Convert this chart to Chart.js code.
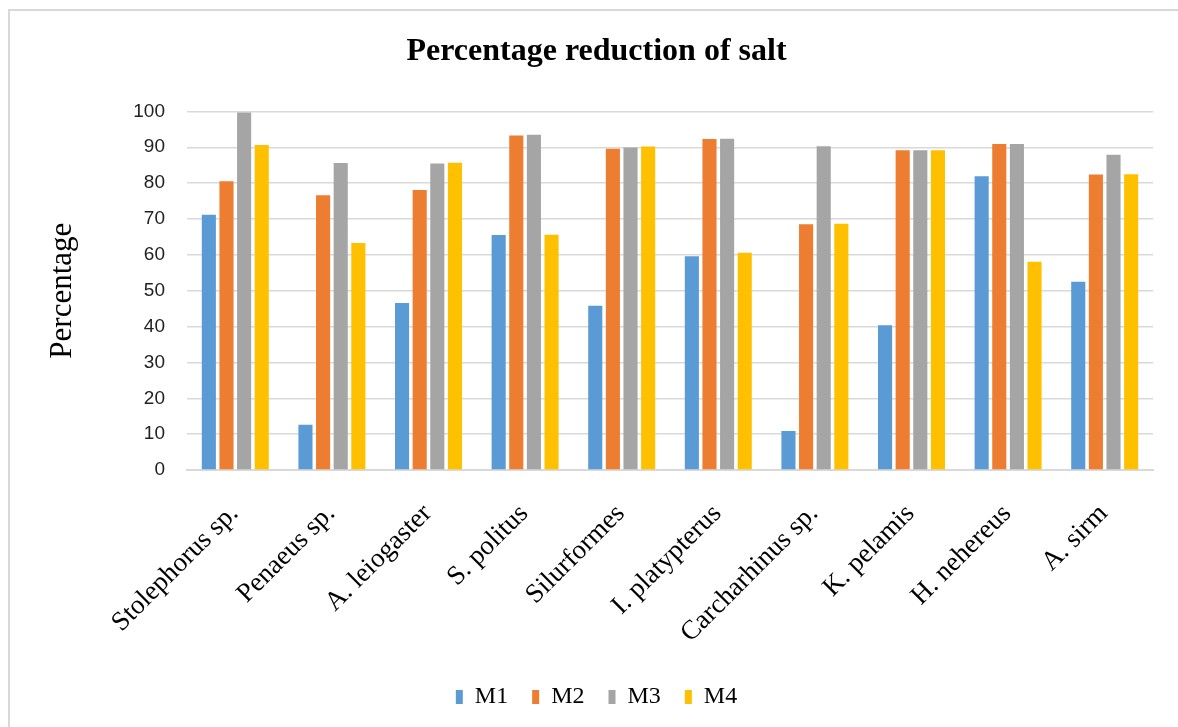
<!DOCTYPE html>
<html>
<head>
<meta charset="utf-8">
<script src="https://cdn.jsdelivr.net/npm/chart.js@4.4.0/dist/chart.umd.min.js"></script>
<style>
  html, body { margin: 0; padding: 0; background: #fff; overflow: hidden; }
  #frame { position: absolute; left: 8px; top: 9px; width: 1200px; height: 760px; border: 2px solid #d9d9d9; box-sizing: border-box; }
  #wrap { position: absolute; left: 0; top: 0; width: 1178px; height: 727px; }
</style>
</head>
<body>
<div id="frame"></div>
<div id="wrap"><canvas id="c" width="1178" height="727"></canvas></div>
<script>
const categories = ["Stolephorus sp.", "Penaeus sp.", "A. leiogaster", "S. politus", "Silurformes", "I. platypterus", "Carcharhinus sp.", "K. pelamis", "H. nehereus", "A. sirm"];
const m1 = [71.2, 12.6, 46.6, 65.5, 45.8, 59.6, 10.9, 40.4, 81.9, 52.5];
const m2 = [80.5, 76.6, 78.1, 93.3, 89.6, 92.3, 68.5, 89.2, 90.9, 82.4];
const m3 = [99.7, 85.6, 85.5, 93.5, 89.9, 92.4, 90.3, 89.2, 90.9, 87.9];
const m4 = [90.6, 63.3, 85.7, 65.6, 90.2, 60.6, 68.7, 89.2, 58.1, 82.5];
const seriesNames = ["M1", "M2", "M3", "M4"];
const colors = ["#5b9bd5", "#ed7d31", "#a5a5a5", "#ffc000"];
const yTicks = [0, 10, 20, 30, 40, 50, 60, 70, 80, 90, 100];

const serif = "'Liberation Serif', 'Times New Roman', serif";
const sans = "'Liberation Sans', Arial, sans-serif";

const data = {
  labels: categories,
  datasets: [m1, m2, m3, m4].map((v, i) => ({
    label: seriesNames[i],
    data: v,
    backgroundColor: colors[i],
    borderWidth: 0,
    categoryPercentage: 0.73,
    barPercentage: 0.8
  }))
};

new Chart(document.getElementById('c'), {
  type: 'bar',
  data: data,
  options: {
    responsive: false,
    animation: false,
    devicePixelRatio: 1,
    layout: { padding: { left: 40, right: 25, top: 20, bottom: 8 } },
    plugins: {
      title: {
        display: true,
        text: "Percentage reduction of salt",
        font: { family: serif, size: 32, weight: 'bold' },
        color: '#000',
        padding: { top: 13, bottom: 40 }
      },
      legend: {
        position: 'bottom',
        labels: {
          font: { family: serif, size: 24 },
          color: '#000',
          boxWidth: 7,
          boxHeight: 14,
          padding: 24
        }
      },
      tooltip: { enabled: false }
    },
    scales: {
      x: {
        grid: { display: false, drawTicks: false },
        border: { color: '#d9d9d9', width: 2 },
        ticks: {
          font: { family: serif, size: 27 },
          color: '#000',
          minRotation: 45,
          maxRotation: 45,
          autoSkip: false,
          padding: 28,
          labelOffset: -1
        },
        afterFit: (s) => { s.height = 191; }
      },
      y: {
        min: 0,
        max: 100,
        afterBuildTicks: (s) => { s.ticks = yTicks.map(v => ({ value: v })); },
        grid: { color: '#d9d9d9', lineWidth: 1.5, drawTicks: false },
        border: { display: false },
        ticks: {
          font: { family: sans, size: 19 },
          color: '#222',
          padding: 22
        },
        title: {
          display: true,
          text: "Percentage",
          font: { family: serif, size: 31 },
          color: '#000',
          padding: { top: 4, bottom: 0 }
        },
        afterFit: (s) => { s.width = 147; }
      }
    }
  }
});
</script>
</body>
</html>
